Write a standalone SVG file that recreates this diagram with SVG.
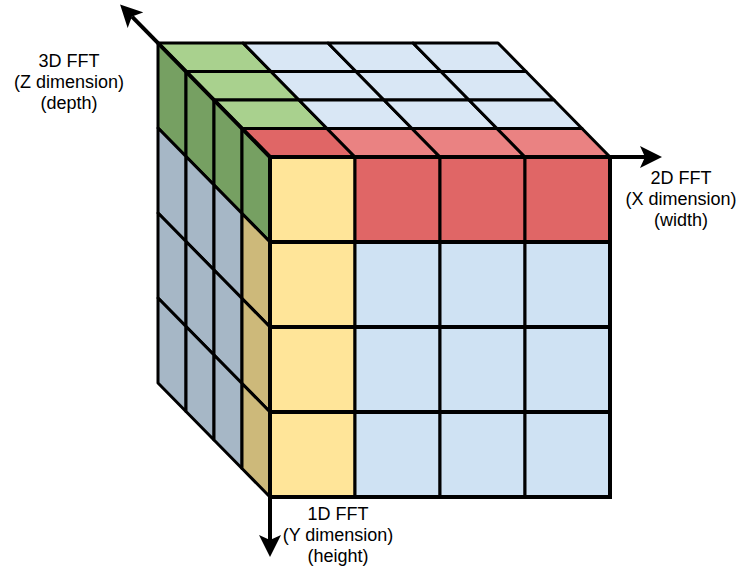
<svg xmlns="http://www.w3.org/2000/svg" width="745" height="575" viewBox="0 0 745 575">
  <style>
    .cell { stroke: #000; stroke-width: 3; stroke-linejoin: round; }
    .top-blue { fill: #D9E7F5; }
    .top-green { fill: #A9D18E; }
    .top-red { fill: #E06666; }
    .top-pink { fill: #EA8282; }
    .side-green { fill: #76A062; }
    .side-grey { fill: #A6B7C6; }
    .side-tan { fill: #CDB97A; }
    .front-yellow { fill: #FFE599; }
    .front-red { fill: #E06666; }
    .front-blue { fill: #CFE2F3; }
    .grid { stroke: #000; stroke-width: 4; fill: none; stroke-linecap: square; }
    .axis { stroke: #000; stroke-width: 4; fill: none; }
    .label { font-family: "Liberation Sans", Arial, sans-serif; font-size: 18px; fill: #000; text-anchor: middle; }
  </style>
  <defs>
    <marker id="arrow" viewBox="0 0 22 22" refX="5" refY="11" markerWidth="22" markerHeight="22" markerUnits="userSpaceOnUse" orient="auto">
      <path d="M0,0 L22,11 L0,22 L5,11 Z" fill="#000"/>
    </marker>
  </defs>

  <!-- top face: 4 depth rows x 4 columns -->
  <g id="top-face">
    <polygon class="cell top-green" points="158,43 243,43 271,71.5 186,71.5"/>
    <polygon class="cell top-blue" points="243,43 328,43 356,71.5 271,71.5"/>
    <polygon class="cell top-blue" points="328,43 413,43 441,71.5 356,71.5"/>
    <polygon class="cell top-blue" points="413,43 498,43 526,71.5 441,71.5"/>

    <polygon class="cell top-green" points="186,71.5 271,71.5 299,100 214,100"/>
    <polygon class="cell top-blue" points="271,71.5 356,71.5 384,100 299,100"/>
    <polygon class="cell top-blue" points="356,71.5 441,71.5 469,100 384,100"/>
    <polygon class="cell top-blue" points="441,71.5 526,71.5 554,100 469,100"/>

    <polygon class="cell top-green" points="214,100 299,100 327,128.5 242,128.5"/>
    <polygon class="cell top-blue" points="299,100 384,100 412,128.5 327,128.5"/>
    <polygon class="cell top-blue" points="384,100 469,100 497,128.5 412,128.5"/>
    <polygon class="cell top-blue" points="469,100 554,100 582,128.5 497,128.5"/>

    <polygon class="cell top-red" points="242,128.5 327,128.5 355,157 270,157"/>
    <polygon class="cell top-pink" points="327,128.5 412,128.5 440,157 355,157"/>
    <polygon class="cell top-pink" points="412,128.5 497,128.5 525,157 440,157"/>
    <polygon class="cell top-pink" points="497,128.5 582,128.5 610,157 525,157"/>
  </g>

  <!-- left side face: 4 depth columns x 4 rows -->
  <g id="side-face">
    <polygon class="cell side-green" points="158,43 186,71.5 186,156.5 158,128"/>
    <polygon class="cell side-green" points="186,71.5 214,100 214,185 186,156.5"/>
    <polygon class="cell side-green" points="214,100 242,128.5 242,213.5 214,185"/>
    <polygon class="cell side-green" points="242,128.5 270,157 270,242 242,213.5"/>

    <polygon class="cell side-grey" points="158,128 186,156.5 186,241.5 158,213"/>
    <polygon class="cell side-grey" points="186,156.5 214,185 214,270 186,241.5"/>
    <polygon class="cell side-grey" points="214,185 242,213.5 242,298.5 214,270"/>
    <polygon class="cell side-tan" points="242,213.5 270,242 270,327 242,298.5"/>

    <polygon class="cell side-grey" points="158,213 186,241.5 186,326.5 158,298"/>
    <polygon class="cell side-grey" points="186,241.5 214,270 214,355 186,326.5"/>
    <polygon class="cell side-grey" points="214,270 242,298.5 242,383.5 214,355"/>
    <polygon class="cell side-tan" points="242,298.5 270,327 270,412 242,383.5"/>

    <polygon class="cell side-grey" points="158,298 186,326.5 186,411.5 158,383"/>
    <polygon class="cell side-grey" points="186,326.5 214,355 214,440 186,411.5"/>
    <polygon class="cell side-grey" points="214,355 242,383.5 242,468.5 214,440"/>
    <polygon class="cell side-tan" points="242,383.5 270,412 270,497 242,468.5"/>
  </g>

  <!-- front face: 4 x 4 grid -->
  <g id="front-face">
    <rect class="cell front-yellow" x="270" y="157" width="85" height="85"/>
    <rect class="cell front-red" x="355" y="157" width="85" height="85"/>
    <rect class="cell front-red" x="440" y="157" width="85" height="85"/>
    <rect class="cell front-red" x="525" y="157" width="85" height="85"/>

    <rect class="cell front-yellow" x="270" y="242" width="85" height="85"/>
    <rect class="cell front-blue" x="355" y="242" width="85" height="85"/>
    <rect class="cell front-blue" x="440" y="242" width="85" height="85"/>
    <rect class="cell front-blue" x="525" y="242" width="85" height="85"/>

    <rect class="cell front-yellow" x="270" y="327" width="85" height="85"/>
    <rect class="cell front-blue" x="355" y="327" width="85" height="85"/>
    <rect class="cell front-blue" x="440" y="327" width="85" height="85"/>
    <rect class="cell front-blue" x="525" y="327" width="85" height="85"/>

    <rect class="cell front-yellow" x="270" y="412" width="85" height="85"/>
    <rect class="cell front-blue" x="355" y="412" width="85" height="85"/>
    <rect class="cell front-blue" x="440" y="412" width="85" height="85"/>
    <rect class="cell front-blue" x="525" y="412" width="85" height="85"/>

    <!-- heavier row lines and outline -->
    <path class="grid" d="M270,242 H610 M270,327 H610 M270,412 H610"/>
    <rect class="grid" x="270" y="157" width="340" height="340"/>
  </g>

  <!-- axes -->
  <g id="connectors">
    <line id="axis-z" class="axis" x1="270" y1="157" x2="132" y2="16.6" marker-end="url(#arrow)"/>
    <line id="axis-x" class="axis" x1="270" y1="157" x2="645" y2="157" marker-end="url(#arrow)"/>
    <line id="axis-y" class="axis" x1="270" y1="157" x2="270" y2="540" marker-end="url(#arrow)"/>
  </g>

  <!-- axis labels -->
  <g id="label-z">
    <text class="label" x="69" y="67">3D FFT</text>
    <text class="label" x="69" y="88">(Z dimension)</text>
    <text class="label" x="69" y="109">(depth)</text>
  </g>
  <g id="label-x">
    <text class="label" x="681" y="184">2D FFT</text>
    <text class="label" x="681" y="205">(X dimension)</text>
    <text class="label" x="681" y="226">(width)</text>
  </g>
  <g id="label-y">
    <text class="label" x="338" y="520">1D FFT</text>
    <text class="label" x="338" y="541">(Y dimension)</text>
    <text class="label" x="338" y="562">(height)</text>
  </g>
</svg>
